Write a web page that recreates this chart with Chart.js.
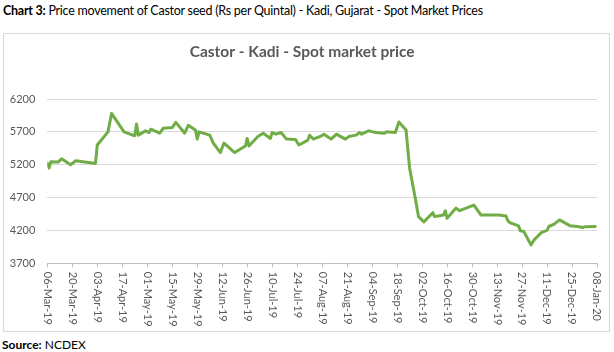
<!DOCTYPE html>
<html><head><meta charset="utf-8">
<script src="https://cdn.jsdelivr.net/npm/chart.js@4.4.1/dist/chart.umd.min.js"></script>
<style>
html,body{margin:0;padding:0;background:#fff;width:614px;height:352px;overflow:hidden;font-family:Lato,sans-serif;}
#hdr{position:absolute;left:3px;top:3px;font-size:12.5px;letter-spacing:-0.25px;color:#000;white-space:nowrap;}
#box{position:absolute;left:3px;top:33px;width:605px;height:297px;border:1px solid #d9d9d9;}
#src{position:absolute;left:2px;top:337px;font-size:12px;color:#000;white-space:nowrap;}
#wrap{position:absolute;left:0;top:0;width:614px;height:352px;}
</style></head><body>
<div id="hdr"><b>Chart 3:</b> Price movement of Castor seed (Rs per Quintal) - Kadi, Gujarat - Spot Market Prices</div>
<div id="box"></div>
<div id="src"><b>Source:</b> NCDEX</div>
<div id="wrap"><canvas id="c" width="614" height="352"></canvas></div>
<script>
// days since 06-Mar-19
const dayOffset = [0,1,2,6,8,13,16,27,28,34,36,43,49,50,51,55,57,58,63,65,70,72,77,79,83,84,85,91,93,97,99,105,111,112,113,118,121,125,126,128,131,134,139,141,146,147,149,153,155,159,162,167,169,173,175,176,180,184,189,190,195,197,201,203,206,208,211,216,217,222,223,224,229,231,239,243,253,257,258,259,261,264,265,267,271,273,277,280,281,284,287,293,297,300,301,307];
const prices = [5225,5150,5245,5240,5290,5200,5260,5220,5500,5700,5980,5700,5640,5820,5650,5715,5690,5740,5680,5755,5765,5845,5680,5800,5730,5590,5700,5650,5530,5385,5530,5385,5485,5600,5485,5630,5680,5600,5690,5665,5690,5590,5585,5500,5575,5650,5590,5630,5665,5590,5665,5590,5630,5650,5690,5665,5715,5690,5680,5700,5690,5850,5730,5150,4715,4410,4330,4470,4410,4435,4500,4385,4540,4500,4585,4435,4435,4420,4350,4320,4300,4270,4195,4185,3980,4065,4170,4200,4260,4295,4360,4270,4260,4245,4255,4260];
const tickLabels = ['06-Mar-19','20-Mar-19','03-Apr-19','17-Apr-19','01-May-19','15-May-19','29-May-19','12-Jun-19','26-Jun-19','10-Jul-19','24-Jul-19','07-Aug-19','21-Aug-19','04-Sep-19','18-Sep-19','02-Oct-19','16-Oct-19','30-Oct-19','13-Nov-19','27-Nov-19','11-Dec-19','25-Dec-19','08-Jan-20'];
const tickStepDays = 14;

const rotatedLabels = {
  id:'rotatedLabels',
  afterDraw(chart){
    const s = chart.scales.x, ctx = chart.ctx;
    ctx.save();
    ctx.font = '11px Lato';
    ctx.fillStyle = '#595959';
    ctx.textAlign = 'left';
    ctx.textBaseline = 'middle';
    s.ticks.forEach(t => {
      const idx = Math.round(t.value / tickStepDays);
      const lbl = tickLabels[idx];
      if (!lbl) return;
      const x = s.getPixelForValue(t.value);
      ctx.save();
      ctx.translate(x, s.top + 8.5);
      ctx.rotate(Math.PI/2);
      ctx.fillText(lbl, 0, 0);
      ctx.restore();
    });
    ctx.restore();
  }
};

new Chart(document.getElementById('c'), {
  type:'line',
  data:{ datasets:[{
    data: dayOffset.map((d,i)=>({x:d, y:prices[i]})),
    borderColor:'#70AD47', borderWidth:3, pointRadius:0, tension:0, fill:false,
    borderJoinStyle:'round', borderCapStyle:'round'
  }]},
  options:{
    responsive:false, animation:false,
    layout:{padding:{left:7.3, right:17, top:0, bottom:28.7}},
    plugins:{
      legend:{display:false}, tooltip:{enabled:false},
      title:{display:true, text:'Castor - Kadi - Spot market price', color:'#595959',
        font:{family:'Lato', size:15.5, weight:'bold', lineHeight:1.2}, padding:{top:42.7, bottom:37.7}}
    },
    scales:{
      x:{ type:'linear', min:0, max:(tickLabels.length-1)*tickStepDays,
        ticks:{display:false, stepSize:tickStepDays, maxTicksLimit:100, autoSkip:false},
        grid:{display:true, drawOnChartArea:false, drawTicks:true, tickLength:4, color:'#bfbfbf'},
        border:{display:true, color:'#bfbfbf', width:1},
        afterFit(s){ s.height = 60; }
      },
      y:{ min:3700, max:6200,
        ticks:{stepSize:500, color:'#595959', font:{family:'Lato', size:11}, padding:12,
          callback:(v)=>String(v)},
        grid:{color:'#d9d9d9', drawTicks:false},
        border:{display:false},
        afterFit(s){ s.width = 40; }
      }
    }
  },
  plugins:[rotatedLabels]
});
</script>
</body></html>
